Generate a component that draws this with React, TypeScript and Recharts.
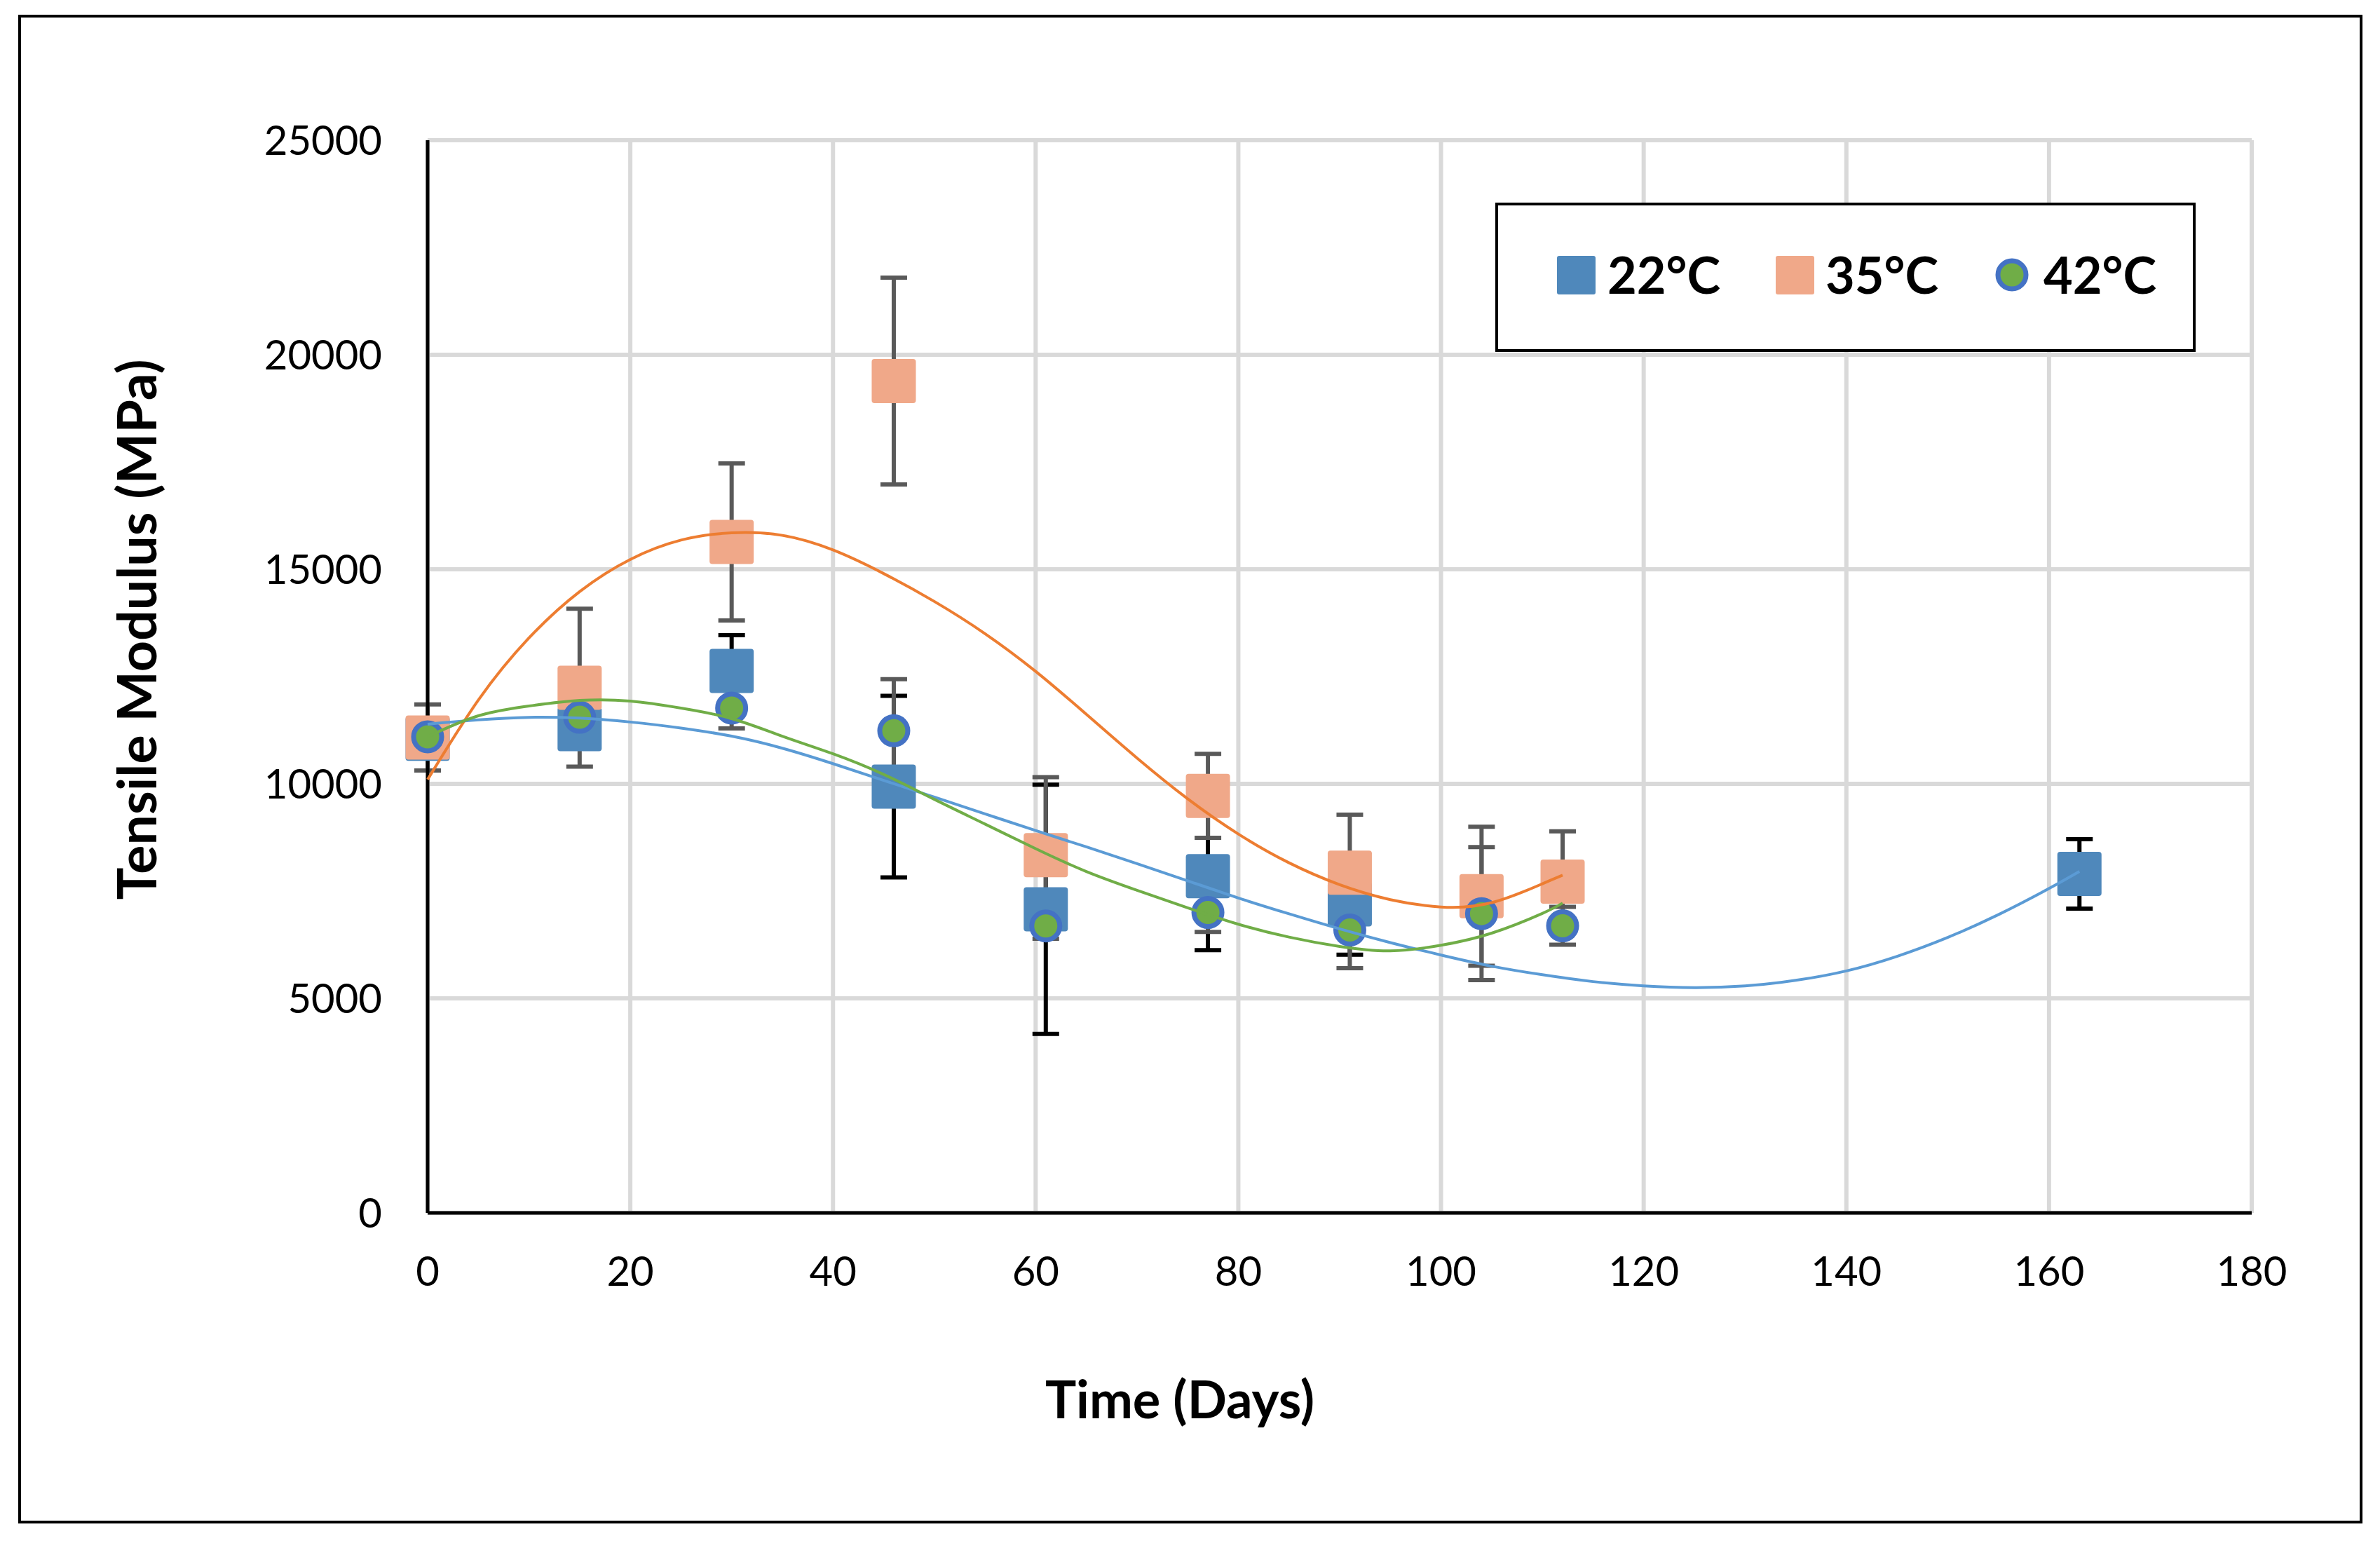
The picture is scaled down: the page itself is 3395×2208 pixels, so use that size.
import React from 'react';
import { ComposedChart, Scatter, Line, XAxis, YAxis, CartesianGrid, ErrorBar } from 'recharts';

const W = 3395;
const H = 2208;

const xTicks = [0, 20, 40, 60, 80, 100, 120, 140, 160, 180];
const yTicks = [0, 5000, 10000, 15000, 20000, 25000];

// measured points (days, MPa, +/- error)
const days22 = [0, 15, 30, 46, 61, 77, 91, 163];
const mod22 = [11050, 11275, 12630, 9935, 7075, 7846, 7190, 7900];
const err22 = [300, 400, 833, 2115, 2906, 1723, 1173, 809];

const days35 = [0, 15, 30, 46, 61, 77, 91, 104, 112];
const mod35 = [11080, 12240, 15637, 19387, 8337, 9720, 7928, 7380, 7721];
const err35 = [770, 1840, 1830, 2410, 1819, 980, 1352, 1620, 1172];

const days42 = [0, 15, 30, 46, 61, 77, 91, 104, 112];
const mod42 = [11095, 11552, 11765, 11237, 6687, 7001, 6592, 6974, 6690];
const err42 = [300, 300, 475, 1200, 300, 453, 889, 1551, 442];

// trend curves
const trendX22 = [0, 5, 10, 15, 20, 25, 30, 35, 40, 45, 50, 55, 60, 65, 70, 75, 80, 85, 90, 95, 100, 105, 110, 115, 120, 125, 130, 135, 140, 145, 150, 155, 160, 163];
const trendY22 = [11390, 11490, 11550, 11530, 11440, 11300, 11110, 10830, 10470, 10080, 9690, 9300, 8910, 8530, 8140, 7740, 7340, 6970, 6620, 6300, 6010, 5750, 5550, 5390, 5290, 5250, 5290, 5420, 5640, 5980, 6420, 6950, 7560, 7957];

const trendX35 = [0, 5, 10, 15, 20, 25, 30, 35, 40, 45, 50, 55, 60, 65, 70, 75, 80, 85, 90, 95, 100, 105, 110, 112];
const trendY35 = [10100, 11950, 13400, 14480, 15230, 15680, 15850, 15790, 15450, 14900, 14250, 13500, 12620, 11620, 10600, 9650, 8830, 8160, 7650, 7300, 7130, 7230, 7670, 7870];

const trendX42 = [0, 5, 10, 15, 20, 25, 30, 35, 40, 45, 50, 55, 60, 65, 70, 75, 80, 85, 90, 95, 100, 105, 110, 112];
const trendY42 = [11100, 11585, 11814, 11944, 11928, 11765, 11520, 11110, 10700, 10219, 9638, 9063, 8488, 7956, 7519, 7110, 6728, 6428, 6210, 6107, 6237, 6520, 6980, 7220];

const pts = (xs: number[], ys: number[], es?: number[]) =>
  xs.map((x, i) => ({ x, y: ys[i], err: es ? es[i] : 0 }));

const data22 = pts(days22, mod22, err22);
const data35 = pts(days35, mod35, err35);
const data42 = pts(days42, mod42, err42);
const line22 = pts(trendX22, trendY22);
const line35 = pts(trendX35, trendY35);
const line42 = pts(trendX42, trendY42);

const BLUE = '#4F88BB';
const SALMON = '#F0A889';
const GREEN = '#70AD47';
const RING = '#4472C4';
const FONT = 'Lato, "Open Sans", sans-serif';

const squareShape = (color: string) => (props: any) => {
  const { cx, cy } = props;
  const s = 63;
  return <rect x={cx - s / 2} y={cy - s / 2} width={s} height={s} rx={4} fill={color} />;
};

const circleShape = (props: any) => (
  <circle cx={props.cx} cy={props.cy} r={20} fill={GREEN} stroke={RING} strokeWidth={7} />
);

const noShape = () => <g />;

const App = () => {
  return (
    <div style={{ position: 'absolute', left: 0, top: 0, width: W, height: H, background: '#fff' }}>
      <ComposedChart
        width={W}
        height={H}
        margin={{ top: 200, right: 183, left: 410, bottom: 378 }}
      >
        <CartesianGrid stroke="#D9D9D9" strokeWidth={6} />
        <XAxis
          type="number"
          dataKey="x"
          domain={[0, 180]}
          ticks={xTicks}
          height={100}
          tickLine={false}
          tickSize={0}
          tickMargin={63}
          axisLine={{ stroke: '#000', strokeWidth: 5 }}
          tick={{ fill: '#000', fontSize: 58, fontFamily: FONT }}
        />
        <YAxis
          type="number"
          dataKey="y"
          domain={[0, 25000]}
          ticks={yTicks}
          width={200}
          tickLine={false}
          tickSize={0}
          tickMargin={65}
          axisLine={{ stroke: '#000', strokeWidth: 5 }}
          tick={{ fill: '#000', fontSize: 58, fontFamily: FONT }}
        />

        {/* error bars first, markers on top of all of them */}
        <Scatter data={data22} dataKey="y" shape={noShape} isAnimationActive={false}>
          <ErrorBar dataKey="err" direction="y" width={19} strokeWidth={6} stroke="#000" />
        </Scatter>
        <Scatter data={data35} dataKey="y" shape={noShape} isAnimationActive={false}>
          <ErrorBar dataKey="err" direction="y" width={19} strokeWidth={6} stroke="#595959" />
        </Scatter>
        <Scatter data={data42} dataKey="y" shape={noShape} isAnimationActive={false}>
          <ErrorBar dataKey="err" direction="y" width={19} strokeWidth={6} stroke="#595959" />
        </Scatter>

        <Scatter data={data22} dataKey="y" shape={squareShape(BLUE)} isAnimationActive={false} />
        <Scatter data={data35} dataKey="y" shape={squareShape(SALMON)} isAnimationActive={false} />
        <Scatter data={data42} dataKey="y" shape={circleShape} isAnimationActive={false} />

        <Line data={line22} dataKey="y" type="natural" stroke="#5B9BD5" strokeWidth={4} dot={false} activeDot={false} isAnimationActive={false} zIndex={700} />
        <Line data={line35} dataKey="y" type="natural" stroke="#ED7D31" strokeWidth={4} dot={false} activeDot={false} isAnimationActive={false} zIndex={700} />
        <Line data={line42} dataKey="y" type="natural" stroke="#70AD47" strokeWidth={4} dot={false} activeDot={false} isAnimationActive={false} zIndex={700} />
      </ComposedChart>

      <svg
        width={W}
        height={H}
        style={{ position: 'absolute', left: 0, top: 0, pointerEvents: 'none' }}
        fontFamily={FONT}
      >
        <rect x={28} y={23} width={3340} height={2148} fill="none" stroke="#000" strokeWidth={4} />

        <text transform="translate(223, 898) rotate(-90)" textAnchor="middle" fontSize={77} fontWeight={700} fill="#000">
          Tensile Modulus (MPa)
        </text>
        <text x={1683} y={2023} textAnchor="middle" fontSize={74} fontWeight={700} fill="#000">
          Time (Days)
        </text>

        <rect x={2135} y={291} width={995} height={209} fill="#fff" stroke="#000" strokeWidth={4} />
        <rect x={2221} y={365} width={55} height={55} rx={3} fill={BLUE} />
        <text x={2293} y={419} fontSize={72} fontWeight={700} fill="#000">22°C</text>
        <rect x={2533} y={365} width={55} height={55} rx={3} fill={SALMON} />
        <text x={2604} y={419} fontSize={72} fontWeight={700} fill="#000">35°C</text>
        <circle cx={2870} cy={392} r={20} fill={GREEN} stroke={RING} strokeWidth={7} />
        <text x={2915} y={419} fontSize={72} fontWeight={700} fill="#000">42°C</text>
      </svg>
    </div>
  );
};

export default App;
